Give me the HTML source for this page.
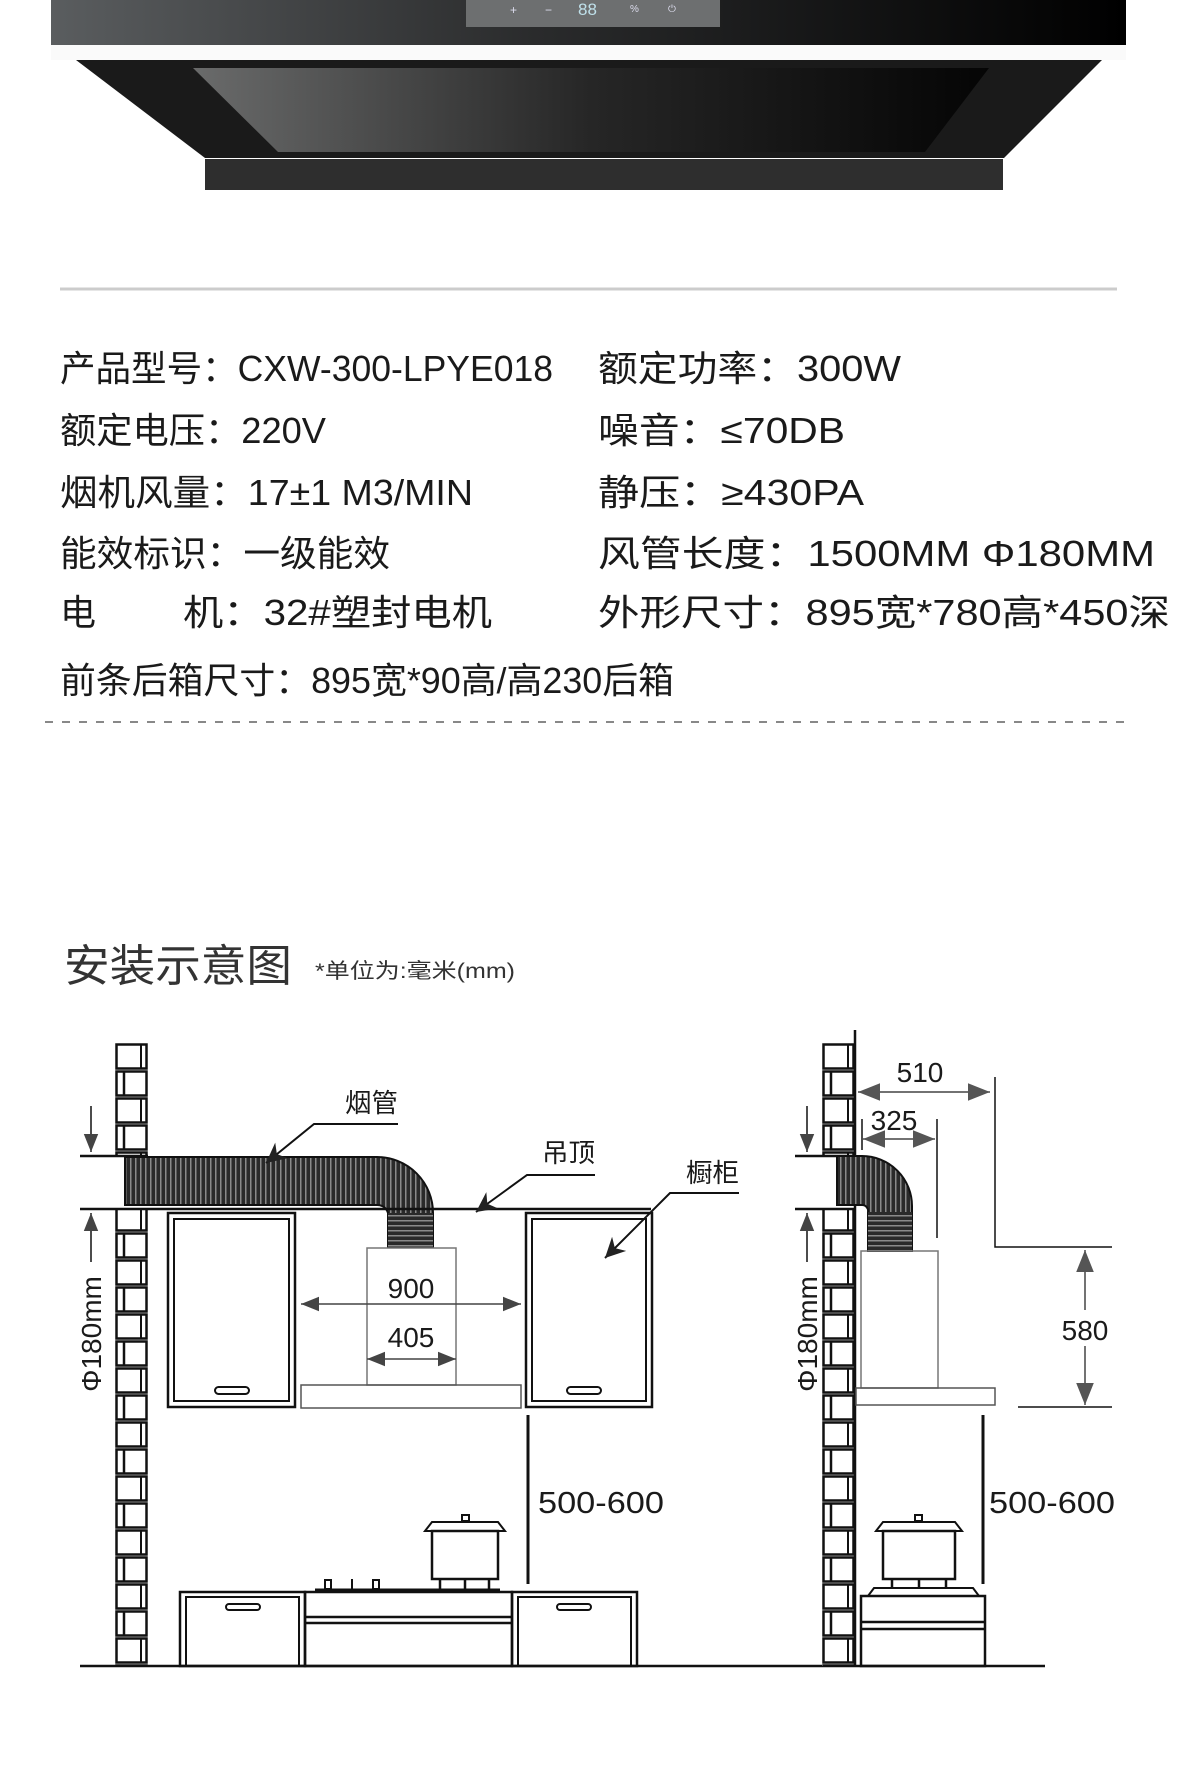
<!DOCTYPE html>
<html><head><meta charset="utf-8"><style>
html,body{margin:0;padding:0;background:#fff}
svg{display:block}
text{font-family:"Liberation Sans","Noto Sans CJK SC",sans-serif;fill:#1a1a1a}
</style></head><body>
<svg width="1181" height="1779" viewBox="0 0 1181 1779" xmlns="http://www.w3.org/2000/svg">
<defs>
<linearGradient id="g1" x1="0" x2="1" y1="0" y2="0"><stop offset="0" stop-color="#5a5d5f"/><stop offset="0.45" stop-color="#2a2b2c"/><stop offset="1" stop-color="#000"/></linearGradient>
<linearGradient id="g2" x1="0" x2="1"><stop offset="0" stop-color="#6a6b6b"/><stop offset="0.5" stop-color="#262626"/><stop offset="1" stop-color="#050505"/></linearGradient>
<pattern id="brick" x="115" y="1043" width="33" height="54" patternUnits="userSpaceOnUse">
<rect width="33" height="54" fill="#fff"/>
<rect x="1.5" y="1.5" width="30" height="24" fill="none" stroke="#111" stroke-width="2.5"/>
<rect x="1.5" y="28.5" width="30" height="24" fill="none" stroke="#111" stroke-width="2.5"/>
<line x1="9" y1="28" x2="9" y2="53" stroke="#111" stroke-width="2.5"/>
<line x1="26" y1="2" x2="26" y2="26" stroke="#111" stroke-width="2"/>
</pattern>
<pattern id="brick2" x="822" y="1043" width="33" height="54" patternUnits="userSpaceOnUse">
<rect width="33" height="54" fill="#fff"/>
<rect x="1.5" y="1.5" width="30" height="24" fill="none" stroke="#111" stroke-width="2.5"/>
<rect x="1.5" y="28.5" width="30" height="24" fill="none" stroke="#111" stroke-width="2.5"/>
<line x1="9" y1="28" x2="9" y2="53" stroke="#111" stroke-width="2.5"/>
<line x1="26" y1="2" x2="26" y2="26" stroke="#111" stroke-width="2"/>
</pattern>
<pattern id="corr" width="5" height="5" patternUnits="userSpaceOnUse"><rect width="5" height="5" fill="#2a2a2a"/><rect width="1.5" height="5" fill="#8a8a8a"/></pattern>
<pattern id="corrh" width="5" height="5" patternUnits="userSpaceOnUse"><rect width="5" height="5" fill="#2a2a2a"/><rect width="5" height="1.5" fill="#8a8a8a"/></pattern>
<marker id="ah" viewBox="0 0 10 10" refX="10" refY="5" markerWidth="18" markerHeight="18" markerUnits="userSpaceOnUse" orient="auto-start-reverse"><path d="M0,1 L10,5 L0,9 Z" fill="#444"/></marker>
<marker id="al" viewBox="0 0 10 10" refX="10" refY="5" markerWidth="20" markerHeight="20" markerUnits="userSpaceOnUse" orient="auto"><path d="M0,0 L10,5 L0,10 L3,5 Z" fill="#222"/></marker>
<marker id="ah2" viewBox="0 0 10 10" refX="10" refY="5" markerWidth="22" markerHeight="22" markerUnits="userSpaceOnUse" orient="auto-start-reverse"><path d="M0,1 L10,5 L0,9 Z" fill="#555"/></marker>
</defs>

<rect x="51" y="0" width="1075" height="45" fill="url(#g1)"/>
<rect x="466" y="0" width="254" height="27" fill="#6d6f70"/>
<text x="510" y="14" font-size="12" style="fill:#dde">+</text>
<text x="545" y="14" font-size="12" style="fill:#dde">−</text>
<text x="578" y="15" font-size="17" style="fill:#bfe0ea">88</text>
<text x="630" y="12" font-size="10" style="fill:#dde">%</text>
<text x="668" y="12" font-size="10" style="fill:#dde">⏻</text>
<rect x="51" y="45" width="1075" height="15" fill="#fafafa"/>
<polygon points="76,60 1102,60 1004,158 205,158" fill="#1a1a1a"/>
<polygon points="193,68 989,68 925,152 278,152" fill="url(#g2)"/>
<rect x="205" y="159" width="798" height="31" fill="#2e2e2e"/>

<line x1="60" y1="289" x2="1117" y2="289" stroke="#ccc" stroke-width="3"/>

<g font-size="36">
<text x="60" y="381" textLength="493" lengthAdjust="spacingAndGlyphs">产品型号：CXW-300-LPYE018</text>
<text x="60" y="443" textLength="266" lengthAdjust="spacingAndGlyphs">额定电压：220V</text>
<text x="60" y="505" textLength="413" lengthAdjust="spacingAndGlyphs">烟机风量：17±1 M3/MIN</text>
<text x="60" y="566" textLength="330" lengthAdjust="spacingAndGlyphs">能效标识：一级能效</text>
<text x="60" y="625">电</text>
<text x="183" y="625" textLength="309" lengthAdjust="spacingAndGlyphs">机：32#塑封电机</text>
<text x="60" y="693" textLength="614" lengthAdjust="spacingAndGlyphs">前条后箱尺寸：895宽*90高/高230后箱</text>
<text x="598" y="381" textLength="303" lengthAdjust="spacingAndGlyphs">额定功率：300W</text>
<text x="598" y="443" textLength="247" lengthAdjust="spacingAndGlyphs">噪音：≤70DB</text>
<text x="598" y="505" textLength="266" lengthAdjust="spacingAndGlyphs">静压：≥430PA</text>
<text x="598" y="566" textLength="557" lengthAdjust="spacingAndGlyphs">风管长度：1500MM Φ180MM</text>
<text x="598" y="625" textLength="572" lengthAdjust="spacingAndGlyphs">外形尺寸：895宽*780高*450深</text>
</g>
<line x1="45" y1="722" x2="1130" y2="722" stroke="#888" stroke-width="2" stroke-dasharray="8,9"/>

<text x="64" y="981" font-size="44" textLength="228" lengthAdjust="spacingAndGlyphs" style="fill:#333">安装示意图</text>
<text x="315" y="978" font-size="21" textLength="200" lengthAdjust="spacingAndGlyphs" style="fill:#333">*单位为:毫米(mm)</text>

<g stroke="#111" fill="none" stroke-width="2.5">
<rect x="115" y="1043" width="33" height="113" fill="url(#brick)" stroke="none"/>
<rect x="115" y="1210" width="33" height="456" fill="url(#brick)" stroke="none"/>
<line x1="80" y1="1156" x2="148" y2="1156"/>
<line x1="80" y1="1209" x2="148" y2="1209"/>
<line x1="91" y1="1106" x2="91" y2="1152" stroke-width="1.5" marker-end="url(#ah)"/>
<line x1="91" y1="1262" x2="91" y2="1213" stroke-width="1.5" marker-end="url(#ah)"/>
<path d="M125,1157 L377,1157 A56,56 0 0 1 433,1213 L433,1247 L388,1247 L388,1213 A11,11 0 0 0 377,1205 L125,1205 Z" fill="url(#corr)" stroke="#111" stroke-width="2"/>
<rect x="388" y="1213" width="45" height="34" fill="url(#corrh)" stroke="none"/>
<line x1="148" y1="1209" x2="651" y2="1209"/>
<rect x="168" y="1213" width="127" height="194"/>
<rect x="174" y="1219" width="115" height="182" stroke-width="2"/>
<rect x="215" y="1387" width="34" height="7" rx="3.5" stroke-width="2"/>
<rect x="526" y="1213" width="126" height="194"/>
<rect x="532" y="1219" width="114" height="182" stroke-width="2"/>
<rect x="567" y="1387" width="34" height="7" rx="3.5" stroke-width="2"/>
<rect x="367" y="1248" width="89" height="137" stroke="#777" stroke-width="1.5"/>
<rect x="301" y="1385" width="220" height="23" stroke="#555" stroke-width="1.5"/>
<line x1="301" y1="1304" x2="521" y2="1304" stroke="#444" stroke-width="1.5" marker-start="url(#ah)" marker-end="url(#ah)"/>
<line x1="367" y1="1359" x2="456" y2="1359" stroke="#444" stroke-width="1.5" marker-start="url(#ah)" marker-end="url(#ah)"/>
<polyline points="398,1124 314,1124 266,1163" stroke-width="2" marker-end="url(#al)"/>
<polyline points="595,1175 527,1175 476,1212" stroke-width="2" marker-end="url(#al)"/>
<polyline points="739,1193 670,1193 605,1258" stroke-width="2" marker-end="url(#al)"/>
<line x1="528" y1="1415" x2="528" y2="1584" stroke-width="3"/>
<line x1="80" y1="1666" x2="1045" y2="1666"/>
<rect x="180" y="1592" width="125" height="74"/>
<rect x="186" y="1597" width="113" height="69" stroke-width="2"/>
<rect x="226" y="1604" width="34" height="6" rx="3" stroke-width="2"/>
<rect x="305" y="1592" width="207" height="74"/>
<line x1="305" y1="1617" x2="512" y2="1617"/>
<line x1="305" y1="1623" x2="512" y2="1623"/>
<rect x="512" y="1592" width="125" height="74"/>
<rect x="518" y="1597" width="113" height="69" stroke-width="2"/>
<rect x="557" y="1604" width="34" height="6" rx="3" stroke-width="2"/>
<line x1="315" y1="1590" x2="500" y2="1590" stroke-width="3"/>
<rect x="325" y="1580" width="6" height="9" stroke-width="2"/>
<line x1="352" y1="1579" x2="352" y2="1589" stroke-width="2"/>
<rect x="373" y="1580" width="6" height="9" stroke-width="2"/>
<path d="M425,1531 L432,1522 L498,1522 L505,1531 Z" stroke-width="2"/>
<rect x="462" y="1515" width="7" height="6" stroke-width="2"/>
<rect x="432" y="1531" width="66" height="48" stroke-width="2.5"/>
<line x1="440" y1="1579" x2="440" y2="1590"/><line x1="465" y1="1579" x2="465" y2="1590"/><line x1="489" y1="1579" x2="489" y2="1590"/>

<rect x="822" y="1043" width="33" height="113" fill="url(#brick2)" stroke="none"/>
<rect x="822" y="1210" width="33" height="456" fill="url(#brick2)" stroke="none"/>
<line x1="855" y1="1030" x2="855" y2="1666"/>
<line x1="795" y1="1156" x2="855" y2="1156"/>
<line x1="795" y1="1209" x2="855" y2="1209"/>
<line x1="807" y1="1106" x2="807" y2="1152" stroke-width="1.5" marker-end="url(#ah)"/>
<line x1="807" y1="1262" x2="807" y2="1213" stroke-width="1.5" marker-end="url(#ah)"/>
<path d="M837,1156 L862,1156 A50,50 0 0 1 912,1206 L912,1251 L868,1251 L868,1212 A6,6 0 0 0 862,1205 L837,1205 Z" fill="url(#corr)" stroke="#111" stroke-width="2"/>
<rect x="868" y="1212" width="44" height="39" fill="url(#corrh)" stroke="none"/>
<rect x="861" y="1251" width="77" height="137" stroke="#777" stroke-width="1.5"/>
<rect x="856" y="1388" width="139" height="17" stroke="#555" stroke-width="1.5"/>
<line x1="858" y1="1092" x2="990" y2="1092" stroke="#444" stroke-width="1.5" marker-start="url(#ah2)" marker-end="url(#ah2)"/>
<line x1="863" y1="1139" x2="935" y2="1139" stroke="#444" stroke-width="1.5" marker-start="url(#ah2)" marker-end="url(#ah2)"/>
<line x1="862" y1="1119" x2="862" y2="1150" stroke-width="1.5"/>
<line x1="937" y1="1119" x2="937" y2="1238" stroke-width="1.5"/>
<polyline points="995,1077 995,1247 1112,1247" stroke-width="1.5"/>
<line x1="1018" y1="1407" x2="1112" y2="1407" stroke-width="1.5"/>
<line x1="1085" y1="1310" x2="1085" y2="1250" stroke="#444" stroke-width="1.5" marker-end="url(#ah2)"/>
<line x1="1085" y1="1346" x2="1085" y2="1405" stroke="#444" stroke-width="1.5" marker-end="url(#ah2)"/>
<line x1="983" y1="1415" x2="983" y2="1584" stroke-width="3"/>
<rect x="861" y="1596" width="124" height="70"/>
<line x1="861" y1="1622" x2="985" y2="1622"/>
<line x1="861" y1="1629" x2="985" y2="1629"/>
<path d="M868,1596 L874,1588 L973,1588 L979,1596" stroke-width="2"/>
<path d="M876,1531 L883,1522 L955,1522 L962,1531 Z" stroke-width="2"/>
<rect x="915" y="1515" width="7" height="6" stroke-width="2"/>
<rect x="883" y="1531" width="72" height="48" stroke-width="2.5"/>
<line x1="892" y1="1579" x2="892" y2="1588"/><line x1="919" y1="1579" x2="919" y2="1588"/><line x1="946" y1="1579" x2="946" y2="1588"/>
</g>

<g font-size="26" style="fill:#222">
<text x="345" y="1112" textLength="53" lengthAdjust="spacingAndGlyphs">烟管</text>
<text x="542" y="1162" textLength="53" lengthAdjust="spacingAndGlyphs">吊顶</text>
<text x="686" y="1182" textLength="53" lengthAdjust="spacingAndGlyphs">橱柜</text>
<text x="411" y="1298" text-anchor="middle" font-size="28">900</text>
<text x="411" y="1347" text-anchor="middle" font-size="28">405</text>
<text x="920" y="1082" text-anchor="middle" font-size="28">510</text>
<text x="894" y="1130" text-anchor="middle" font-size="28">325</text>
<text x="1085" y="1340" text-anchor="middle" font-size="28">580</text>
<text x="538" y="1513" font-size="31" textLength="126" lengthAdjust="spacingAndGlyphs">500-600</text>
<text x="989" y="1513" font-size="31" textLength="126" lengthAdjust="spacingAndGlyphs">500-600</text>
<text transform="translate(101,1334) rotate(-90)" text-anchor="middle" font-size="28">Φ180mm</text>
<text transform="translate(817,1334) rotate(-90)" text-anchor="middle" font-size="28">Φ180mm</text>
</g>
</svg>
</body></html>
